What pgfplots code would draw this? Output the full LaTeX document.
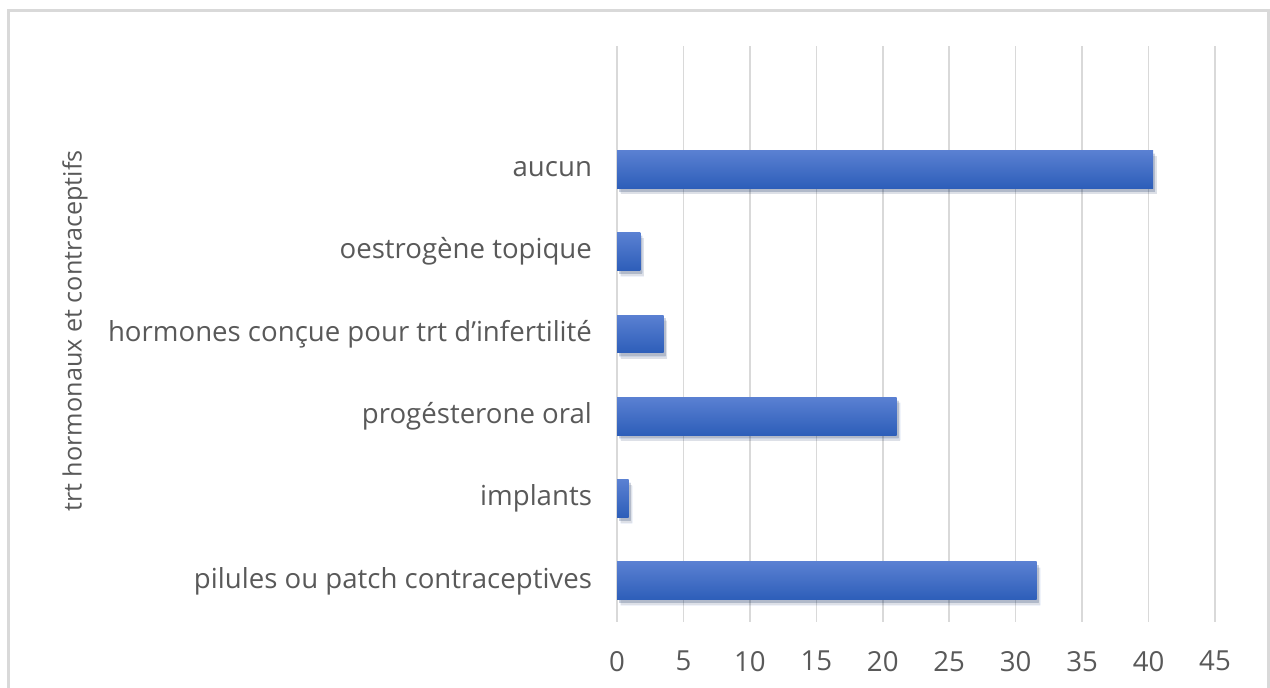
\documentclass[border=0pt]{standalone}
\usepackage{pgfplots}
\pgfplotsset{compat=1.18}
\usepackage{fontspec}
\setmainfont{Open Sans}
\definecolor{txt}{HTML}{595959}
\definecolor{gridc}{HTML}{D9D9D9}
\definecolor{bartop}{HTML}{5A80D2}
\definecolor{barbot}{HTML}{2D5EB9}
\definecolor{framec}{HTML}{D9D9D9}
\begin{document}
\begin{tikzpicture}[x=1pt,y=1pt]
\path[use as bounding box] (0,0) rectangle (635,344);
\draw[framec, line width=1.5pt] (4,-10) rectangle (634,338.5);
\begin{axis}[
  at={(308.5pt,33pt)}, anchor=south west,
  scale only axis, width=299pt, height=288pt,
  xmin=0, xmax=45, ymin=-0.5, ymax=6.5,
  xtick={0,5,...,45},
  ytick={0,1,2,3,4,5},
  yticklabels={pilules ou patch contraceptives, implants, progésterone oral, hormones conçue pour trt d'infertilité, oestrogène topique, aucun},
  axis line style={draw=none},
  major tick length=0pt,
  xmajorgrids, ymajorgrids=false, major grid style={gridc, line width=0.8pt},
  tick label style={font=\fontsize{13.8}{15}\selectfont, text=txt},
  /pgf/number format/assume math mode=true,
  xticklabel style={yshift=-11pt},
  yticklabel style={xshift=-9pt},
  clip=false, no markers,
  mybar/.style={xbar, bar width=0.46, bar shift=0pt, draw=none, mark=none,
    top color=bartop, bottom color=barbot,
    preaction={fill=black, fill opacity=0.08, transform canvas={xshift=1.8pt, yshift=-2.8pt}},
    preaction={fill=black, fill opacity=0.12, transform canvas={xshift=1pt, yshift=-1.6pt}}},
]
\addplot[mybar] coordinates {(31.58,0)};
\addplot[mybar] coordinates {(0.88,1)};
\addplot[mybar] coordinates {(21.05,2)};
\addplot[mybar] coordinates {(3.51,3)};
\addplot[mybar] coordinates {(1.75,4)};
\addplot[mybar] coordinates {(40.35,5)};
\end{axis}
\node[rotate=90, text=txt, font=\fontsize{12.6}{15}\selectfont] at (37.5,178.5) {trt hormonaux et contraceptifs};
\end{tikzpicture}
\end{document}
